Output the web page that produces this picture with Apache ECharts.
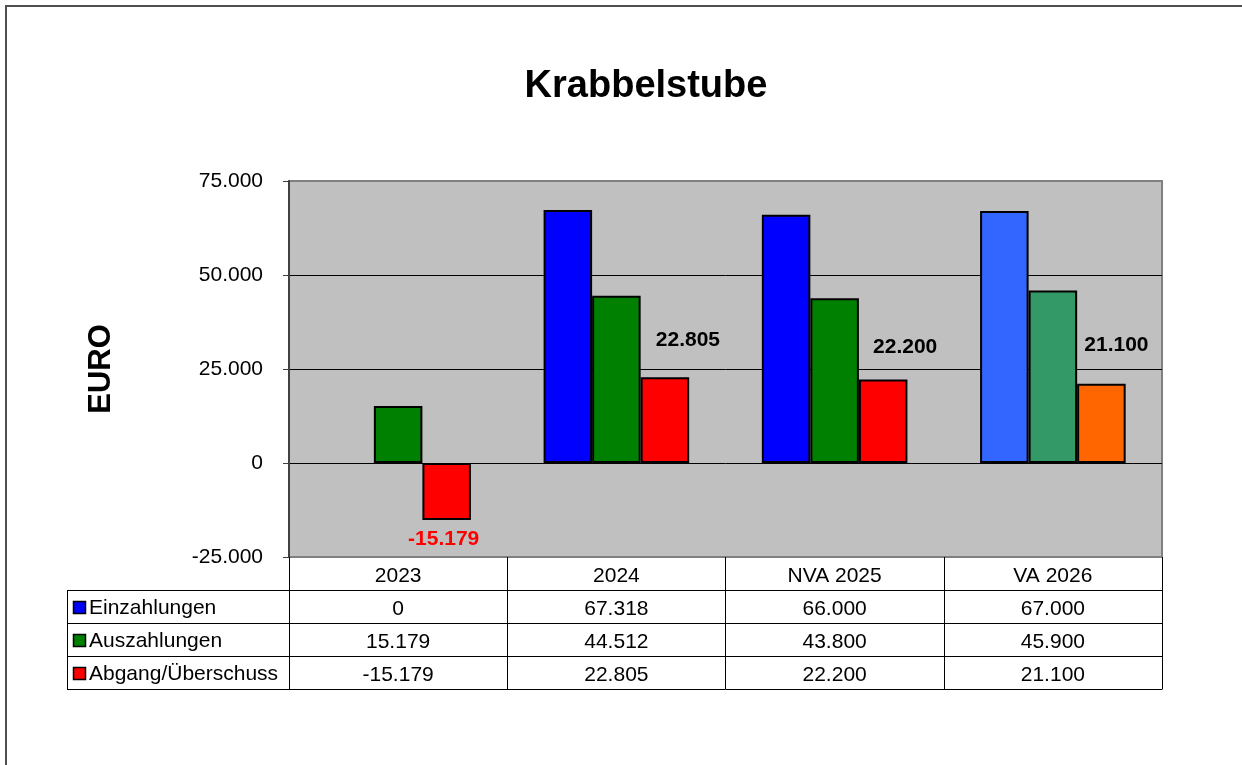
<!DOCTYPE html>
<html>
<head>
<meta charset="utf-8">
<title>Krabbelstube</title>
<script src="https://cdn.jsdelivr.net/npm/echarts/dist/echarts.min.js"></script>
<style>
  body { margin: 0; background: #fff; }
  #chart { width: 1242px; height: 765px; }
</style>
</head>
<body>
<div id="chart"></div>
<script>
// data
const categories = ['2023', '2024', 'NVA 2025', 'VA 2026']
const seriesNames = ['Einzahlungen', 'Auszahlungen', 'Abgang/Überschuss']
const einzahlungen = [0, 67318, 66000, 67000]
const auszahlungen = [15179, 44512, 43800, 45900]
const abgang = [-15179, 22805, 22200, 21100]
const yMin = -25000
const yMax = 75000
const yStep = 25000

// styling
const colors = ['#0000FF', '#008000', '#FF0000']
const lastColors = ['#3366FF', '#339966', '#FF6600']
const labelOffsets = [[-3, 4], [23, -22], [22, -17], [15, -23]]
const font = "'Liberation Sans', Arial, sans-serif"

const grid = { left: 289, top: 181, width: 873, height: 376 }
const rowH = 33
const tableLeft = 67

// 1.234 style numbers
function fmt(v) {
  let s = String(Math.abs(v)).replace(/\B(?=(\d{3})+(?!\d))/g, '.')
  return v < 0 ? '-' + s : s
}

let rows = [einzahlungen, auszahlungen, abgang]

function makeSeries(k) {
  let data = rows[k].map(function (v, i) {
    let item = { value: v }
    if (i === categories.length - 1) {
      item.itemStyle = { color: lastColors[k] }
    }
    // a zero bar has no visible outline in the original
    if (v === 0) {
      item.itemStyle = { borderWidth: 0 }
    }
    if (k === 2) {
      item.label = { offset: labelOffsets[i] }
      if (v < 0) {
        item.label.position = 'bottom'
        item.label.color = '#FF0000'
      }
    }
    return item
  })
  return {
    name: seriesNames[k],
    type: 'bar',
    xAxisIndex: 0,
    barGap: '0%',
    barCategoryGap: '33.3%',
    itemStyle: { color: colors[k], borderColor: '#000', borderWidth: 2 },
    label: {
      show: k === 2,
      position: 'top',
      color: '#000',
      fontFamily: font,
      fontWeight: 'bold',
      fontSize: 21,
      formatter: function (p) { return fmt(p.value) }
    },
    emphasis: { disabled: true },
    data: data
  }
}

// x axes: first one carries the category header, the others the table rows
let xAxes = [{
  type: 'category',
  data: categories,
  position: 'bottom',
  axisLine: { show: false, onZero: false },
  axisTick: { show: true, interval: 0, length: rowH * 4, lineStyle: { color: '#000', width: 1 } },
  axisLabel: { interval: 0, margin: 9, color: '#000', fontFamily: font, fontSize: 21 }
}]
for (let k = 0; k < rows.length; k++) {
  xAxes.push({
    type: 'category',
    data: categories,
    position: 'bottom',
    offset: rowH * (k + 1),
    axisLine: { show: true, onZero: false, lineStyle: { color: '#000', width: 1 } },
    axisTick: { show: false },
    axisLabel: {
      interval: 0, margin: 9, color: '#000', fontFamily: font, fontSize: 21,
      formatter: function (value, index) { return fmt(rows[k][index]) }
    }
  })
}
xAxes.push({
  type: 'category',
  data: categories,
  position: 'bottom',
  offset: rowH * 4,
  axisLine: { show: true, onZero: false, lineStyle: { color: '#000', width: 1 } },
  axisTick: { show: false },
  axisLabel: { show: false }
})

// left column of the data table: legend keys and series names
let graphics = [{
  type: 'rect',
  silent: true,
  shape: { x: 6, y: 6, width: 1400, height: 1000 },
  style: { fill: 'none', stroke: '#505050', lineWidth: 2 }
}]
let tableTop = grid.top + grid.height
for (let k = 0; k <= rows.length; k++) {
  let y = tableTop + rowH * (k + 1) + 0.5
  graphics.push({
    type: 'line',
    silent: true,
    shape: { x1: tableLeft, y1: y, x2: grid.left, y2: y },
    style: { stroke: '#000', lineWidth: 1 }
  })
}
graphics.push({
  type: 'line',
  silent: true,
  shape: { x1: tableLeft + 0.5, y1: tableTop + rowH, x2: tableLeft + 0.5, y2: tableTop + rowH * 4 },
  style: { stroke: '#000', lineWidth: 1 }
})
for (let k = 0; k < rows.length; k++) {
  let cy = tableTop + rowH * (k + 1) + rowH / 2 + 1.5
  graphics.push({
    type: 'rect',
    silent: true,
    shape: { x: tableLeft + 6.5, y: cy - 6.5, width: 12, height: 12 },
    style: { fill: colors[k], stroke: '#000', lineWidth: 1.5 }
  })
  graphics.push({
    type: 'text',
    silent: true,
    x: tableLeft + 22,
    y: cy,
    style: {
      text: seriesNames[k], fill: '#000', font: '21px ' + font,
      align: 'left', verticalAlign: 'middle'
    }
  })
}

let myChart = echarts.init(document.getElementById('chart'))
let option = {
  animation: false,
  backgroundColor: '#fff',
  title: {
    text: 'Krabbelstube',
    left: 641,
    top: 63,
    textAlign: 'center',
    textStyle: { fontFamily: font, fontWeight: 'bold', fontSize: 38, color: '#000' }
  },
  grid: {
    left: grid.left,
    top: grid.top,
    width: grid.width,
    height: grid.height,
    containLabel: false,
    outerBoundsMode: 'none',
    show: true,
    backgroundColor: '#C0C0C0',
    borderColor: '#808080',
    borderWidth: 2
  },
  xAxis: xAxes,
  yAxis: {
    type: 'value',
    min: yMin,
    max: yMax,
    interval: yStep,
    name: 'EURO',
    nameLocation: 'middle',
    nameGap: 172,
    nameRotate: 90,
    nameTextStyle: { fontFamily: font, fontWeight: 'bold', fontSize: 31, color: '#000' },
    axisLine: { show: true, lineStyle: { color: '#404040', width: 2 } },
    axisTick: { show: true, length: 6, lineStyle: { color: '#404040', width: 1 } },
    axisLabel: {
      margin: 26, color: '#000', fontFamily: font, fontSize: 21,
      formatter: function (v) { return fmt(v) }
    },
    splitLine: {
      show: true,
      lineStyle: { color: ['#808080', '#000', '#000', '#000', '#808080'], width: 1 }
    }
  },
  graphic: graphics,
  series: [makeSeries(0), makeSeries(1), makeSeries(2)]
}
myChart.setOption(option)
</script>
</body>
</html>
